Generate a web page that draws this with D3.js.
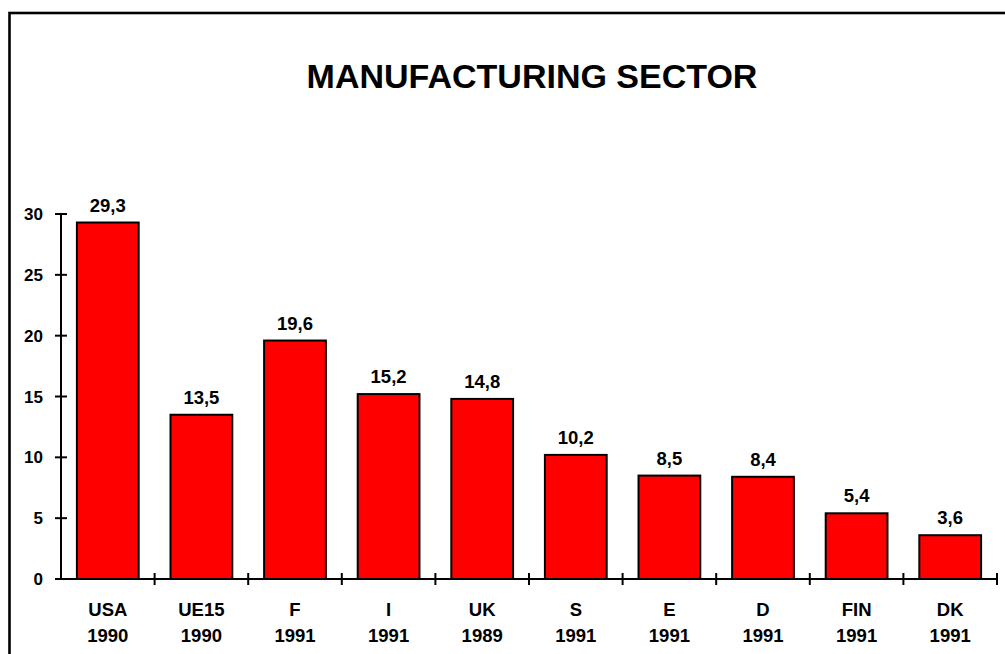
<!DOCTYPE html>
<html>
<head>
<meta charset="utf-8">
<script src="https://cdn.jsdelivr.net/npm/d3@7"></script>
<style>
  html, body { margin: 0; padding: 0; background: #fff; }
  svg { display: block; font-family: Arial, "Liberation Sans", sans-serif; }
</style>
</head>
<body>
<svg id="chart" width="1005" height="654"></svg>
<script>
// Manufacturing sector values by country and reference year
const countries = ["USA", "UE15", "F", "I", "UK", "S", "E", "D", "FIN", "DK"];
const years = ["1990", "1990", "1991", "1991", "1989", "1991", "1991", "1991", "1991", "1991"];
const values = [29.3, 13.5, 19.6, 15.2, 14.8, 10.2, 8.5, 8.4, 5.4, 3.6];
const yTicks = [0, 5, 10, 15, 20, 25, 30];
const title = "MANUFACTURING SECTOR";

const svg = d3.select("#chart");

// Outer frame
svg.append("rect")
  .attr("x", 9.5).attr("y", 13)
  .attr("width", 1100).attr("height", 1000)
  .attr("fill", "none").attr("stroke", "#000").attr("stroke-width", 2.6);

const left = 61, right = 997, y0 = 579, y30 = 214;

const x = d3.scaleBand()
  .domain(d3.range(countries.length))
  .range([left, right])
  .paddingInner(0.34)
  .paddingOuter(0.17);

const y = d3.scaleLinear().domain([0, 30]).range([y0, y30]);

// Title
svg.append("text")
  .attr("x", 532).attr("y", 88)
  .attr("text-anchor", "middle")
  .attr("font-size", 34).attr("font-weight", "bold")
  .text(title);

// Bars
svg.selectAll("rect.bar")
  .data(values)
  .join("rect")
  .attr("class", "bar")
  .attr("x", (d, i) => x(i))
  .attr("y", d => y(d))
  .attr("width", x.bandwidth())
  .attr("height", d => y(0) - y(d))
  .attr("fill", "#ff0000")
  .attr("stroke", "#000")
  .attr("stroke-width", 2);

// Value labels
svg.selectAll("text.val")
  .data(values)
  .join("text")
  .attr("class", "val")
  .attr("x", (d, i) => x(i) + x.bandwidth() / 2)
  .attr("y", d => y(d) - 11)
  .attr("text-anchor", "middle")
  .attr("font-size", 18.5).attr("font-weight", "bold")
  .text(d => d3.format(".1f")(d).replace(".", ","));

// Y axis
const yAxis = svg.append("g");
yAxis.append("line")
  .attr("x1", left).attr("x2", left)
  .attr("y1", y(30)).attr("y2", y(0))
  .attr("stroke", "#000").attr("stroke-width", 2);
yAxis.selectAll("line.tick")
  .data(yTicks)
  .join("line")
  .attr("class", "tick")
  .attr("x1", left - 6).attr("x2", left + 6)
  .attr("y1", d => y(d)).attr("y2", d => y(d))
  .attr("stroke", "#000").attr("stroke-width", 2);
yAxis.selectAll("text")
  .data(yTicks)
  .join("text")
  .attr("x", 43)
  .attr("y", d => y(d))
  .attr("dy", "0.36em")
  .attr("text-anchor", "end")
  .attr("font-size", 17).attr("font-weight", "bold")
  .text(d => d);

// X axis
const xAxis = svg.append("g");
xAxis.append("line")
  .attr("x1", left).attr("x2", right)
  .attr("y1", y0).attr("y2", y0)
  .attr("stroke", "#000").attr("stroke-width", 2);
const bounds = d3.range(countries.length + 1).map(i => left + i * x.step());
xAxis.selectAll("line.tick")
  .data(bounds.slice(1))
  .join("line")
  .attr("class", "tick")
  .attr("x1", d => d).attr("x2", d => d)
  .attr("y1", y0 - 6).attr("y2", y0 + 6)
  .attr("stroke", "#000").attr("stroke-width", 2);

const cat = xAxis.selectAll("text")
  .data(countries)
  .join("text")
  .attr("text-anchor", "middle")
  .attr("font-size", 18.5).attr("font-weight", "bold");
cat.append("tspan")
  .attr("x", (d, i) => x(i) + x.bandwidth() / 2)
  .attr("y", 616)
  .text(d => d);
cat.append("tspan")
  .attr("x", (d, i) => x(i) + x.bandwidth() / 2)
  .attr("y", 642)
  .text((d, i) => years[i]);
</script>
</body>
</html>
